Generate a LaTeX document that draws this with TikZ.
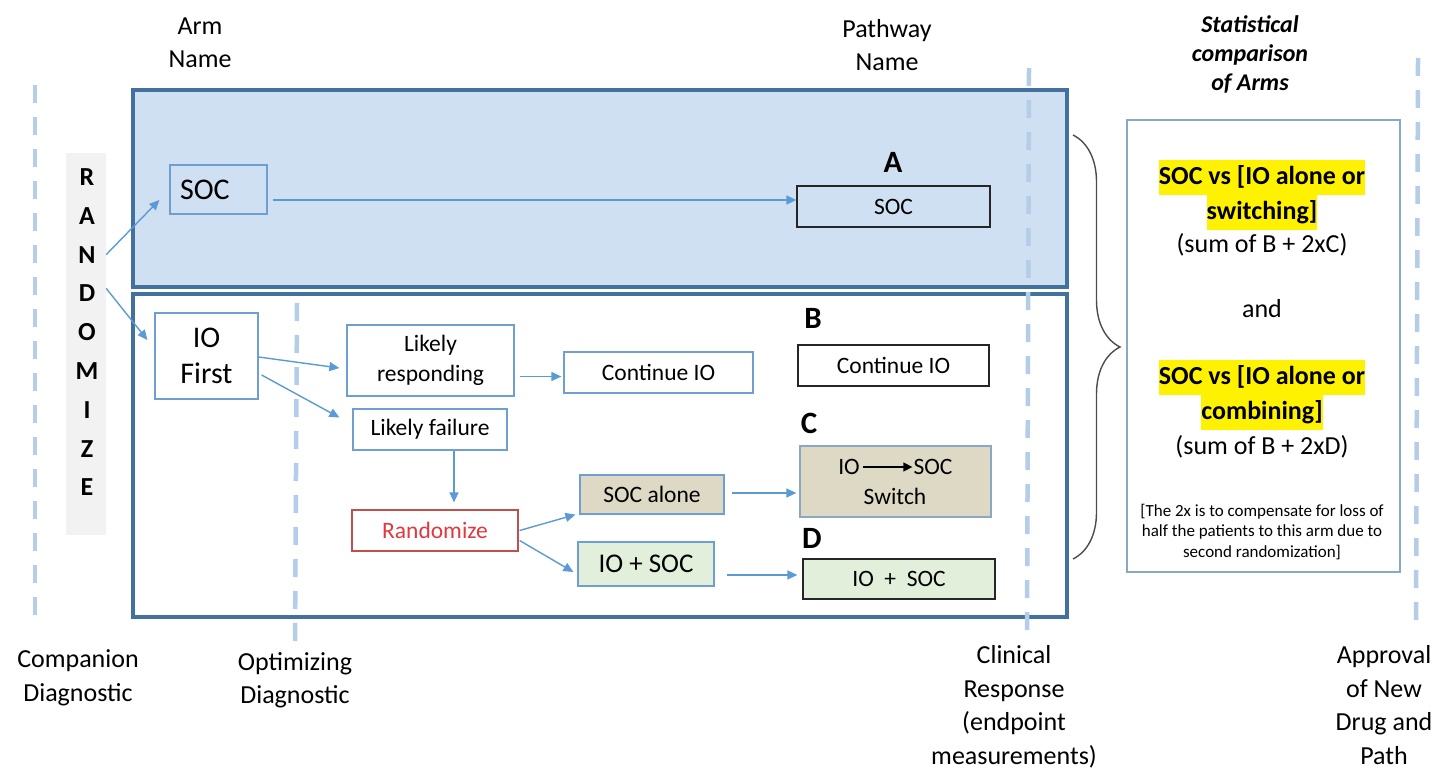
\documentclass[tikz,border=0pt]{standalone}
\usepackage{fontspec}
\setmainfont{Carlito}
\usetikzlibrary{arrows.meta, decorations.pathreplacing}
\usepackage{xcolor}

\definecolor{armfill}{HTML}{CFE0F2}
\definecolor{armline}{HTML}{41719C}
\definecolor{flowblue}{HTML}{5B9BD5}
\definecolor{boxblue}{HTML}{6F9FD0}
\definecolor{guideblue}{HTML}{B4CDE8}
\definecolor{tanfill}{HTML}{DDD9C4}
\definecolor{greenfill}{HTML}{E2EFDA}
\definecolor{redline}{HTML}{C0504D}
\definecolor{redtext}{HTML}{E0383E}
\definecolor{statline}{HTML}{8AA8C6}
\definecolor{randgrey}{HTML}{F2F2F2}

\newcommand{\hlt}[1]{{\setlength{\fboxsep}{0pt}\colorbox{yellow}{\strut #1}}}

\begin{document}
\begin{tikzpicture}[x=1pt, y=-1pt,
    armpanel/.style={draw=armline, line width=4, rectangle, inner sep=0},
    stepbox/.style={draw=boxblue, line width=1.2, rectangle, inner sep=0, align=center,
        font=\fontsize{23.5}{30}\selectfont},
    pathbox/.style={draw=black!85, line width=1.3, rectangle, inner sep=0, align=center,
        font=\fontsize{23.5}{30}\selectfont},
    pathletter/.style={font=\fontsize{31}{31}\selectfont\bfseries, inner sep=0},
    randletter/.style={font=\fontsize{26}{26}\selectfont\bfseries, inner sep=0},
    hdr/.style={align=center, inner sep=0, font=\fontsize{26}{33.5}\selectfont},
    flow/.style={draw=flowblue, line width=1.4, -{Triangle[length=10pt, width=9pt]}},
    guide/.style={draw=guideblue, line width=4.5, dash pattern=on 18pt off 14pt},
    brace/.style={draw=black!70, line width=1.4, decorate,
        decoration={brace, amplitude=47pt}}
]
    \useasboundingbox (0,0) rectangle (1439,770);

    % Arm panels
    \node[armpanel, fill=armfill, minimum width=934, minimum height=197] (toparm) at (600,188.5) {};
    \node[armpanel, fill=white, minimum width=934, minimum height=323] (botarm) at (600,455.5) {};

    % Diagnostic time lines
    \draw[guide] (35,85) -- (35,620);
    \draw[guide] (297,303) -- (295,645);
    \draw[guide] (1029,68) -- (1027,636);
    \draw[guide] (1418,58) -- (1416,628);

    % Column headings
    \node[hdr] (armhdr) at (200,43) {Arm\\Name};
    \node[hdr] (pathhdr) at (887,45) {Pathway\\Name};
    \node[hdr, font=\fontsize{24}{29}\selectfont\bfseries\itshape] (stathdr) at (1250,54) {Statistical\\comparison\\of Arms};

    % Bottom labels
    \node[hdr] (compdx) at (78,678) {Companion\\Diagnostic};
    \node[hdr] (optdx) at (295,680) {Optimizing\\Diagnostic};
    \node[hdr] (clinresp) at (1014,707) {Clinical\\Response\\(endpoint\\measurements)};
    \node[hdr] (approval) at (1384,705) {Approval\\of New\\Drug and\\Path};

    % Randomize column
    \node[fill=randgrey, minimum width=40, minimum height=382, inner sep=0] (randcol) at (86,344) {};
    \foreach \ch [count=\i] in {R,A,N,D,O,M,I,Z,E}
        \node[randletter] (rl\i) at (87,{177+(\i-1)*38.8}) {\ch};

    % Arms
    \node[stepbox, fill=armfill, minimum width=97, minimum height=49, text width=77, inner xsep=10, align=left,
        font=\fontsize{30}{36}\selectfont] (socarm) at (218.5,189.5) {SOC};
    \node[stepbox, minimum width=103, minimum height=86, font=\fontsize{30}{36}\selectfont] (iofirst) at (206.5,356) {IO\\First};

    % Second arm steps
    \node[stepbox, minimum width=167, minimum height=71] (likresp) at (430.5,360.5) {Likely\\responding};
    \node[stepbox, minimum width=154, minimum height=41] (likfail) at (430,429.5) {Likely failure};
    \node[stepbox, minimum width=189, minimum height=41] (contmid) at (658.5,372.5) {Continue IO};
    \node[stepbox, draw=redline, text=redtext, minimum width=166, minimum height=41] (randbox) at (435,530.5) {Randomize};
    \node[stepbox, fill=tanfill, minimum width=144, minimum height=39] (socalone) at (652,494.5) {SOC alone};
    \node[stepbox, fill=greenfill, minimum width=136, minimum height=44, font=\fontsize{27}{30}\selectfont] (ioplus) at (646,564) {IO + SOC};

    % Pathways
    \node[pathletter] (letA) at (893,162) {A};
    \node[pathbox, fill=armfill, minimum width=193, minimum height=41] (pathA) at (893.5,206.5) {SOC};
    \node[pathletter] (letB) at (813,318) {B};
    \node[pathbox, minimum width=191, minimum height=41] (pathB) at (893.5,365.5) {Continue IO};
    \node[pathletter] (letC) at (809,423) {C};
    \node[pathbox, draw=statline, fill=tanfill, minimum width=191, minimum height=71] (pathC) at (895.5,481.5) {};
    \node[inner sep=3, font=\fontsize{23.5}{30}\selectfont] (cIO) at (849,467) {IO};
    \node[inner sep=1, font=\fontsize{23.5}{30}\selectfont] (cSOC) at (933,467) {SOC};
    \node[inner sep=0, font=\fontsize{23.5}{30}\selectfont] (cswitch) at (895,496) {Switch};
    \node[pathletter] (letD) at (812,538) {D};
    \node[pathbox, fill=greenfill, minimum width=192, minimum height=40] (pathD) at (899,579) {IO\ \ +\ \ SOC};

    % Statistical comparison
    \node[draw=statline, line width=1.3, minimum width=273, minimum height=452, inner sep=0] (statbox) at (1263.5,346) {};
    \node[align=center, inner sep=0, font=\fontsize{26}{35}\selectfont\bfseries] (cmpone) at (1262,195) {\hlt{SOC vs [IO alone or}\\\hlt{switching]}};
    \node[inner sep=0, font=\fontsize{26}{33}\selectfont] (sumone) at (1262,245) {(sum of B + 2xC)};
    \node[inner sep=0, font=\fontsize{26}{33}\selectfont] (andtxt) at (1262,309) {and};
    \node[align=center, inner sep=0, font=\fontsize{26}{35}\selectfont\bfseries] (cmptwo) at (1262,395) {\hlt{SOC vs [IO alone or}\\\hlt{combining]}};
    \node[inner sep=0, font=\fontsize{26}{33}\selectfont] (sumtwo) at (1262,447) {(sum of B + 2xD)};
    \node[align=center, inner sep=0, font=\fontsize{17}{20.5}\selectfont] (note) at (1262,532)
        {[The 2x is to compensate for loss of\\half the patients to this arm due to\\second randomization]};

    \coordinate (bracetop) at (1073,135);
    \coordinate (bracebot) at (1073,559);
    \draw[brace] (bracetop) -- (bracebot);

    % Connectors
    \draw[flow] (rl3 -| randcol.east) -- ([xshift=-10pt, yshift=-10.5pt]socarm.west);
    \draw[flow] ([yshift=5pt]rl4 -| randcol.east) -- ([xshift=-7pt, yshift=16pt]iofirst.west);
    \draw[flow] ([xshift=5pt, yshift=-10.5pt]socarm.east) coordinate (socout) -- (socout -| pathA.west);
    \draw[flow] ([yshift=-1pt]iofirst.east) -- ([xshift=-7pt, yshift=-7.5pt]likresp.west);
    \draw[flow] ([xshift=3pt, yshift=-19pt]iofirst.east) -- ([xshift=-13pt, yshift=12pt]likfail.west);
    \draw[flow] ([yshift=-4pt]contmid.west -| likresp.east) ++(5,0) coordinate (lrout) -- ([xshift=-2pt]lrout -| contmid.west);
    \draw[flow, shorten >=7pt] ([xshift=24pt]likfail.south) coordinate (lfout) -- (lfout |- randbox.north);
    \draw[flow] ([xshift=1pt]randbox.east) -- ([xshift=-4pt]socalone.south west);
    \draw[flow] ([xshift=1pt, yshift=-10pt]randbox.east) -- ([xshift=-4pt, yshift=-8pt]ioplus.west);
    \draw[flow, shorten >=3pt] ([xshift=7pt, yshift=1.5pt]socalone.east) coordinate (saout) -- (saout -| pathC.west);
    \draw[flow, shorten >=5pt] ([xshift=12pt, yshift=-11pt]ioplus.east) coordinate (ipout) -- (ipout -| pathD.west);
    \draw[line width=1.3, -{Triangle[length=9pt, width=9pt]}] (cIO) -- (cSOC);

\end{tikzpicture}
\end{document}
